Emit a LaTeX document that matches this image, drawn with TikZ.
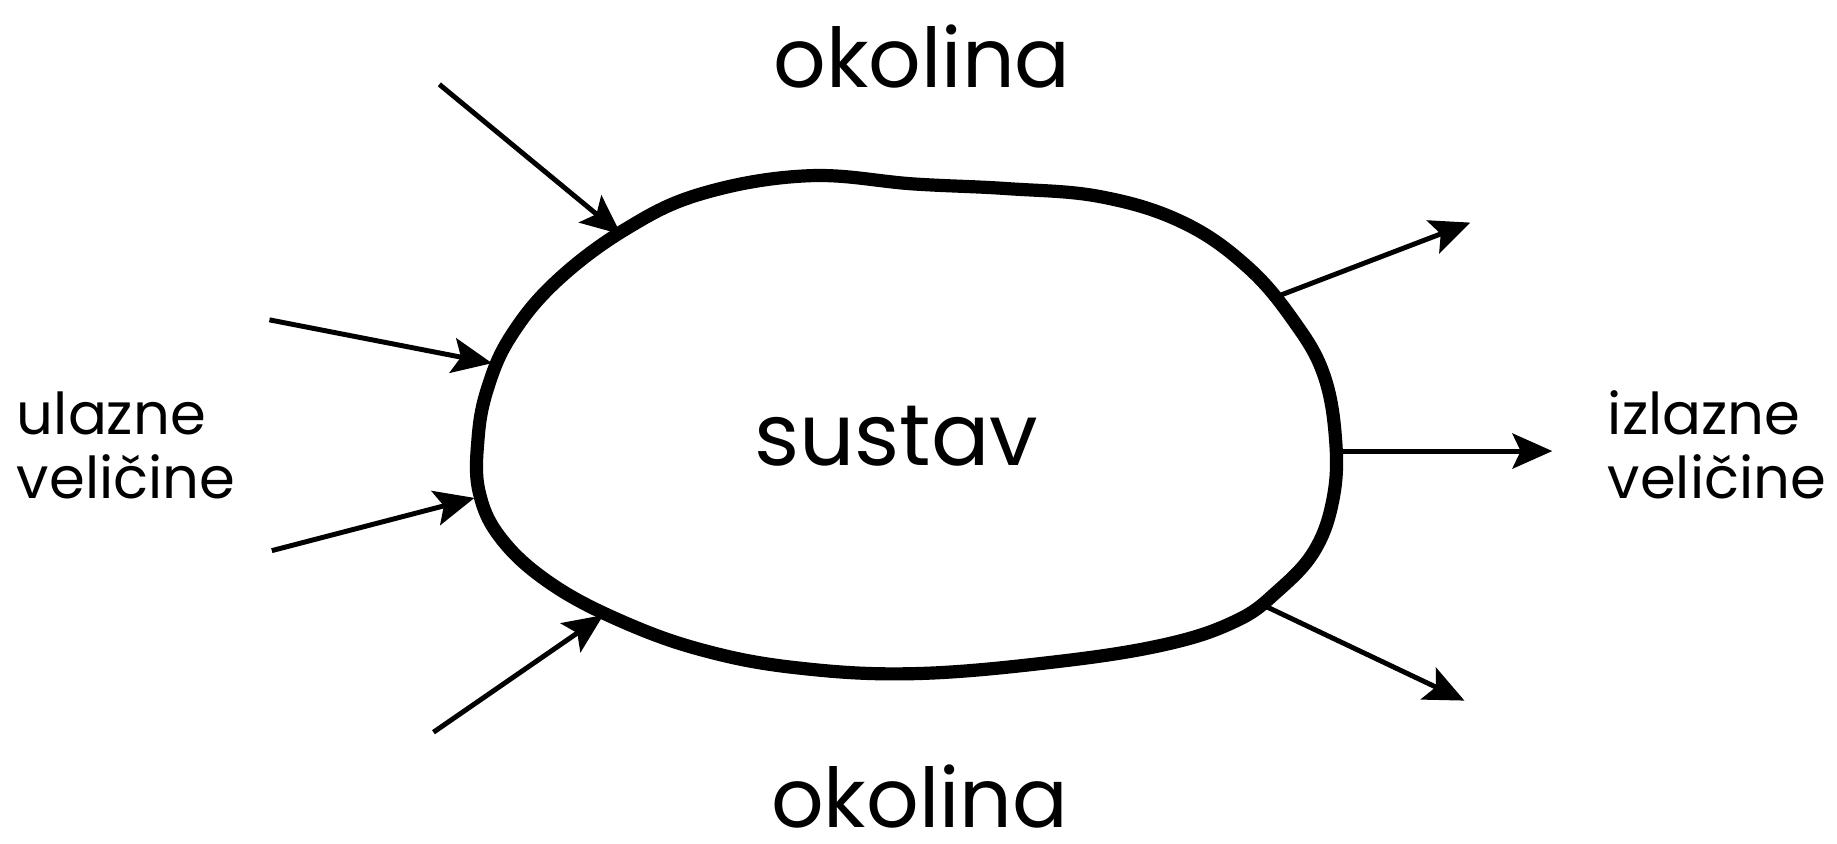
\documentclass[tikz,border=0pt]{standalone}
\usepackage{fontspec}
\setmainfont{Poppins}
\usetikzlibrary{arrows.meta}

\tikzset{
  pin/.style={line width=1.2pt,-{Stealth[length=3.4mm,width=3mm,inset=0.7mm]}},
  okolina/.style={font=\fontsize{20}{24}\selectfont,inner sep=0pt},
  velicine/.style={font=\fontsize{14}{15.5}\selectfont,align=left,anchor=west}
}

\begin{document}
\begin{tikzpicture}[x=0.01cm,y=-0.01cm]
            \useasboundingbox (0,0) rectangle (1568,720);
            \coordinate (A1) at (375, 72);\coordinate (A2) at (530, 200);\coordinate (B1) at (230, 273);\coordinate (B2) at (420, 310);\coordinate (C1) at (232, 470);\coordinate (C2) at (405, 425);\coordinate (D1) at (370, 625);\coordinate (D2) at (515, 525);
            \coordinate (E1) at (1085, 255);\coordinate (E2) at (1255, 190);\coordinate (F1) at (1140, 385);\coordinate (F2) at (1325, 385);\coordinate (G1) at (1075, 515);\coordinate (G2) at (1250, 598);

            % sustav
            \draw[line width=3.2pt] plot[smooth cycle,tension=0.65] coordinates {(600,165) (690,150) (780,157) (860,161) (940,168) (1010,190) (1065,228) (1105,275) (1130,320) (1140,375) (1138,425) (1122,470) (1090,505) (1055,530) (995,550) (900,565) (780,575) (680,570) (600,555) (530,530) (470,498) (428,460) (409,420) (408,375) (416,332) (436,287) (475,240) (535,195)};

            \node (sustav) at (765, 372) {\fontsize{21}{24}\selectfont sustav};
            \node[okolina] (okolinaTop) at (787, 48) {okolina};
            \node[okolina] (okolinaBot) at (785, 680) {okolina};
            \node[velicine] (ulaz) at (2, 380) {ulazne\\veličine};
            \node[velicine] (izlaz) at (1360, 380) {izlazne\\veličine};

            \foreach \a/\b in {A1/A2, B1/B2, C1/C2, D1/D2, E1/E2, F1/F2, G1/G2} {
                \draw[pin] (\a) -- (\b);
            }
\end{tikzpicture}
\end{document}
